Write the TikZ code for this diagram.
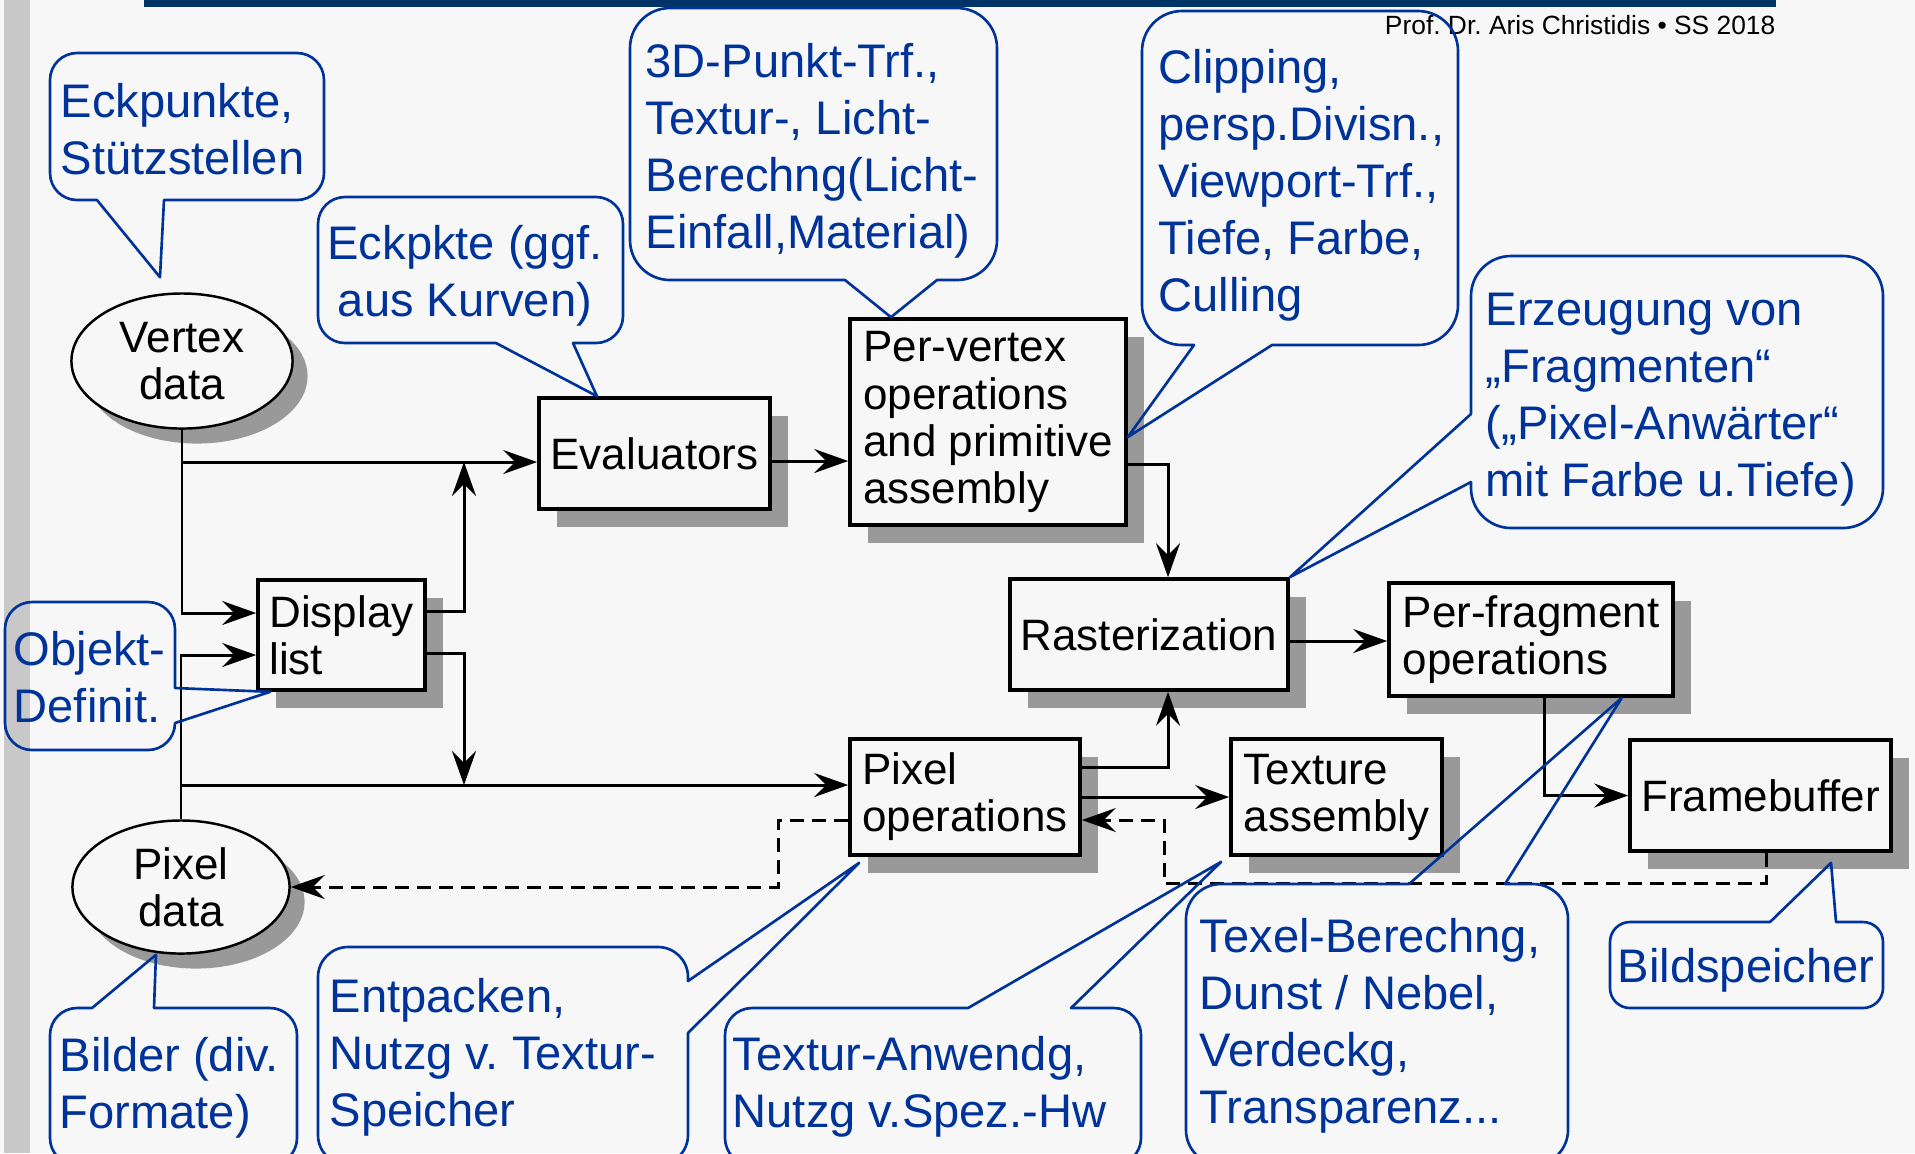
\documentclass[tikz,border=0pt]{standalone}
\usepackage{fontspec}
\setmainfont{Liberation Sans}
\usetikzlibrary{arrows.meta,shapes.geometric,shadows}

\definecolor{slidebg}{HTML}{F7F7F7}
\definecolor{notecol}{HTML}{003399}
\definecolor{barblue}{HTML}{003366}
\definecolor{shade}{HTML}{999999}
\definecolor{sidebar}{HTML}{C8C8C8}

\newcommand{\notefont}{\fontsize{13.4}{16.2}\selectfont}
\newcommand{\boxfont}{\fontsize{12.5}{13.4}\selectfont}
\frenchspacing

\begin{document}
\begin{tikzpicture}[x=0.01cm, y=-0.01cm,
	stage/.style={draw, line width=1pt, fill=slidebg, rectangle, font=\boxfont, inner sep=0pt,
		drop shadow={shadow xshift=0.18cm, shadow yshift=-0.18cm, fill=shade, opacity=1}},
	store/.style={draw, line width=0.7pt, fill=slidebg, ellipse, align=center, font=\boxfont, inner sep=0pt,
		drop shadow={shadow xshift=0.15cm, shadow yshift=-0.15cm, fill=shade, opacity=1}},
	link/.style={line width=0.85pt, -{Stealth[length=0.34cm, width=0.24cm, inset=0.12cm]}},
	back/.style={link, dash pattern=on 0.14cm off 0.08cm},
	note/.style={draw=notecol, line width=0.75pt, line cap=round, line join=round},
	notetext/.style={text=notecol, font=\notefont, align=left, anchor=base west, inner sep=0pt}]

	\useasboundingbox (0,0) rectangle (1915,1153);
	\clip (0,0) rectangle (1915,1153);

	% slide
	\fill[slidebg] (0,0) rectangle (1915,1153);
	\fill[sidebar] (4,0) rectangle (30,1153);
	\fill[barblue] (144,0) rectangle (1776,7);
	\node[anchor=base east, inner sep=0pt, font=\fontsize{7.5}{9}\selectfont] (footer) at (1776,34) {Prof. Dr. Aris Christidis • SS 2018};

	% data sources
	\node[store, minimum width=2.21cm, minimum height=1.35cm] (vertexdata) at (182,361) {Vertex\\data};
	\node[store, minimum width=2.17cm, minimum height=1.33cm] (pixeldata) at (181,887) {Pixel\\data};

	% pipeline stages
	\node[stage, minimum width=2.31cm, minimum height=1.11cm] (evaluators) at (654.5,453.5) {Evaluators};
	\node[stage, minimum width=2.76cm, minimum height=2.06cm, align=left] (pervertex) at (988,422) {Per-vertex\\operations\\and primitive\\assembly};
	\node[stage, minimum width=1.67cm, minimum height=1.10cm, align=left] (display) at (341.5,635) {Display\\list};
	\node[stage, minimum width=2.78cm, minimum height=1.11cm] (raster) at (1149,634.5) {Rasterization};
	\node[stage, minimum width=2.84cm, minimum height=1.13cm, align=left] (perfrag) at (1531,639.5) {Per-fragment\\operations};
	\node[stage, minimum width=2.30cm, minimum height=1.16cm, align=left] (pixelops) at (965,797) {Pixel\\operations};
	\node[stage, minimum width=2.11cm, minimum height=1.16cm, align=left] (texture) at (1336.5,797) {Texture\\assembly};
	\node[stage, minimum width=2.61cm, minimum height=1.11cm] (framebuf) at (1760.5,795.5) {Framebuffer};

	% junctions
	\coordinate (evalin) at ([yshift=-0.085cm]evaluators.west);
	\coordinate (evalout) at ([yshift=-0.075cm]evaluators.east);
	\coordinate (pixin) at ([yshift=0.12cm]pixelops.west);
	\coordinate (rasout) at ([yshift=-0.065cm]raster.east);
	\coordinate (evaltap) at (464,462);
	\coordinate (pixtap) at (464,785);
	\coordinate (fbret) at (1164,883);

	% geometry path
	\draw[link] (evalin -| vertexdata.south) -- (evalin);
	\draw[line width=0.85pt] (vertexdata.south) -- (evalin -| vertexdata.south);
	\draw[link] (vertexdata.south) |- ([yshift=0.22cm]display.west);
	\draw[link] ([yshift=0.24cm]display.east) -| (evaltap);
	\draw[link] (evalout) -- (evalout -| pervertex.west);
	\draw[link] ([yshift=-0.42cm]pervertex.east) -| ([xshift=0.19cm]raster.north);

	% pixel path
	\draw[link] (pixeldata.north) |- ([yshift=-0.2cm]display.west);
	\draw[link] (pixin -| pixeldata.north) -- (pixin);
	\draw[link] ([yshift=-0.18cm]display.east) -| (pixtap);
	\draw[link] ([yshift=0.3cm]pixelops.east) -| ([xshift=0.19cm]raster.south);
	\draw[link] (pixelops.east) -- (pixelops.east -| texture.west);

	% fragments
	\draw[link] (rasout) -- (rasout -| perfrag.west);
	\draw[link] ([xshift=0.13cm]perfrag.south) |- (framebuf.west);

	% read back (dashed)
	\draw[back] ([xshift=0.055cm]framebuf.south) |- (fbret) |- ([yshift=-0.23cm]pixelops.east);
	\draw[back] ([yshift=-0.23cm]pixelops.west) -- ++(-70,0) |- (pixeldata.east);

	% Eckpunkte
	\draw[note] (164,200) [rounded corners=0.27cm] -- (324,200) -- (324,53) -- (50,53) -- (50,200) -- (97,200)
		[sharp corners] (97,200) -- ([xshift=-0.22cm,yshift=0.15cm]vertexdata.north) -- (164,200);
	\node[notetext] (eckpunkte) at (60,174) {Eckpunkte,\\Stützstellen};
	% Eckpkte
	\draw[note] (573,343) [rounded corners=0.27cm] -- (623,343) -- (623,197) -- (318,197) -- (318,343) -- (496,343)
		[sharp corners] (496,343) -- ([xshift=-0.575cm]evaluators.north) -- (573,343);
	\node[notetext, align=center, anchor=base] (eckpkte) at (465,316) {Eckpkte (ggf.\\aus Kurven)};
	% 3D-Punkt
	\draw[note] (937,280) [rounded corners=0.4cm] -- (997,280) -- (997,8) -- (630,8) -- (630,280) -- (845,280)
		[sharp corners] (845,280) -- ([xshift=-0.97cm]pervertex.north) -- (937,280);
	\node[notetext] (punkttrf) at (645,248) {3D-Punkt-Trf.,\\Textur-, Licht-\\Berechng(Licht-\\Einfall,Material)};
	% Clipping
	\draw[note] (1272,345) [rounded corners=0.4cm] -- (1458,345) -- (1458,11) -- (1142,11) -- (1142,345) -- (1194,345)
		[sharp corners] (1194,345) -- ([yshift=-0.15cm]pervertex.east) -- (1272,345);
	\node[notetext] (clipping) at (1158,311) {Clipping,\\persp.Divisn.,\\Viewport-Trf.,\\Tiefe, Farbe,\\Culling};
	% Erzeugung
	\draw[note] (1471,414) [rounded corners=0.4cm] -- (1471,256) -- (1883,256) -- (1883,528) -- (1471,528) -- (1471,482)
		[sharp corners] (1471,482) -- (raster.north east) -- (1471,414);
	\node[notetext] (erzeugung) at (1485,496) {Erzeugung von\\„Fragmenten“\\(„Pixel-Anwärter“\\mit Farbe u.Tiefe)};
	% Objekt
	\draw[note] (175,688) [rounded corners=0.27cm] -- (175,602) -- (5,602) -- (5,750) -- (175,750) -- (175,723)
		[sharp corners] (175,723) -- ([xshift=0.14cm]display.south west) -- (175,688);
	\node[notetext] (objekt) at (13,722) {Objekt-\\Definit.};
	% Bilder
	\draw[note] (154,1008) [rounded corners=0.27cm] -- (297,1008) -- (297,1165) -- (50,1165) -- (50,1008) -- (92,1008)
		[sharp corners] (92,1008) -- ([xshift=-0.25cm]pixeldata.south) -- (154,1008);
	\node[notetext] (bilder) at (59,1128) {Bilder (div.\\Formate)};
	% Entpacken
	\draw[note] (688,981) [rounded corners=0.3cm] -- (688,947) -- (318,947) -- (318,1165) -- (688,1165) -- (688,1033)
		[sharp corners] (688,1033) -- ([xshift=0.11cm,yshift=-0.06cm]pixelops.south west) -- (688,981);
	\node[notetext] (entpacken) at (329,1126) {Entpacken,\\Nutzg v. Textur-\\Speicher};
	% Textur-Anwendg
	\draw[note] (1071,1008) [rounded corners=0.27cm] -- (1141,1008) -- (1141,1165) -- (725,1165) -- (725,1008) -- (968,1008)
		[sharp corners] (968,1008) -- ([xshift=-0.08cm,yshift=-0.05cm]texture.south west) -- (1071,1008);
	\node[notetext] (anwendg) at (732,1127) {Textur-Anwendg,\\Nutzg v.Spez.-Hw};
	% Texel
	\draw[note] (1505,884) [rounded corners=0.35cm] -- (1568,884) -- (1568,1165) -- (1186,1165) -- (1186,884) -- (1409,884)
		[sharp corners] (1409,884) -- ([xshift=-0.53cm]perfrag.south east) -- (1505,884);
	\node[notetext] (texel) at (1199,1123) {Texel-Berechng,\\Dunst / Nebel,\\Verdeckg,\\Transparenz...};
	% Bildspeicher
	\draw[note] (1836,922) [rounded corners=0.2cm] -- (1883,922) -- (1883,1008) -- (1610,1008) -- (1610,922) -- (1770,922)
		[sharp corners] (1770,922) -- ([xshift=0.705cm,yshift=-0.1cm]framebuf.south) -- (1836,922);
	\node[notetext] (bildspeicher) at (1617,982) {Bildspeicher};

\end{tikzpicture}
\end{document}
